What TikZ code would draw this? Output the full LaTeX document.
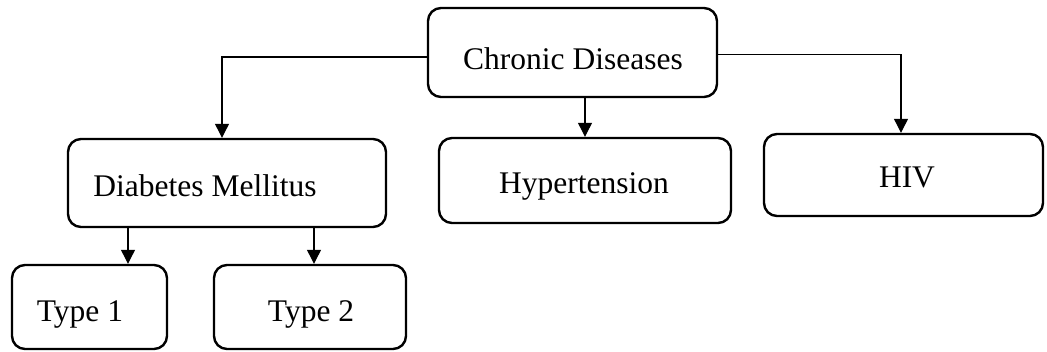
\documentclass[tikz,border=0pt]{standalone}
\usepackage{fontspec}
\setmainfont{Liberation Serif}
\usetikzlibrary{arrows.meta}

\begin{document}
\begin{tikzpicture}[x=1pt, y=-1pt,
  box/.style={draw=black, line width=2.4pt, rounded corners=13pt,
    inner sep=0pt, minimum width=#1},
  lbl/.style={anchor=base, inner sep=0pt,
    font=\fontsize{31.5}{36}\selectfont},
  conn/.style={draw=black, line width=1.2pt,
    -{Triangle[width=14pt,length=14pt]}}]

\useasboundingbox (0,0) rectangle (1047,352);

% boxes
\node[box=289pt, minimum height=89pt] (cd)  at (572.5,52.5) {};
\node[box=318pt, minimum height=88pt] (dm)  at (227,183) {};
\node[box=292pt, minimum height=85pt] (ht)  at (585,180.5) {};
\node[box=279pt, minimum height=82pt] (hiv) at (903.5,175) {};
\node[box=155pt, minimum height=84pt] (t1)  at (89.5,307) {};
\node[box=192pt, minimum height=84pt] (t2)  at (310,307) {};

% labels
\node[lbl] (cdt)  at (573,70)  {Chronic Diseases};
\node[lbl] (dmt)  at (205,197) {Diabetes Mellitus};
\node[lbl] (htt)  at (584,194) {Hypertension};
\node[lbl] (hivt) at (907,188) {HIV};
\node[lbl] (t1t)  at (80,322)  {Type 1};
\node[lbl] (t2t)  at (311,322) {Type 2};

% connectors
\draw[conn] ([yshift=-4.5pt]cd.west) -| ([xshift=-5pt]dm.north);
\draw[conn] ([xshift=12.5pt]cd.south) -- ([xshift=12.5pt]cd.south |- ht.north);
\draw[conn] ([yshift=-2pt]cd.east) -| ([xshift=-2.5pt]hiv.north);
\draw[conn] ([xshift=-99pt]dm.south) -- ([xshift=-99pt]dm.south |- t1.north);
\draw[conn] ([xshift=87pt]dm.south) -- ([xshift=87pt]dm.south |- t2.north);

\end{tikzpicture}
\end{document}
